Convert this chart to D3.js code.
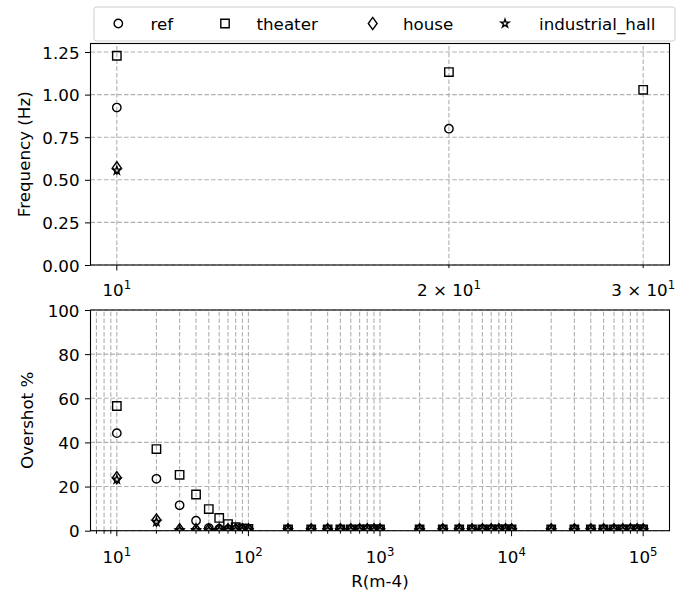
<!DOCTYPE html>
<html>
<head>
<meta charset="utf-8">
<script src="https://cdn.jsdelivr.net/npm/d3@7"></script>
<style>
  body { margin: 0; background: #fff; }
  text { font-family: "DejaVu Sans", sans-serif; fill: #000; }
</style>
</head>
<body>
<svg id="chart" width="688" height="592"></svg>
<script>
// ---- data ----
var seriesNames = ["ref", "theater", "house", "industrial_hall"];

// top panel: frequency vs R
var freqRefX = [10, 20];
var freqRefY = [0.924, 0.80];
var freqTheaterX = [10, 20, 30];
var freqTheaterY = [1.228, 1.132, 1.028];
var freqHouseX = [10];
var freqHouseY = [0.570];
var freqHallX = [10];
var freqHallY = [0.555];

// bottom panel: overshot vs R
var rValues = [10, 20, 30, 40, 50, 60, 70, 80, 90, 100,
  200, 300, 400, 500, 600, 700, 800, 900, 1000,
  2000, 3000, 4000, 5000, 6000, 7000, 8000, 9000, 10000,
  20000, 30000, 40000, 50000, 60000, 70000, 80000, 90000, 100000];
var overRef = [44.2, 23.5, 11.5, 4.5, 1.2, 0.8, 0.6, 0.5, 0.5, 0.5,
  0.5, 0.5, 0.5, 0.5, 0.5, 0.5, 0.5, 0.5, 0.5,
  0.5, 0.5, 0.5, 0.5, 0.5, 0.5, 0.5, 0.5, 0.5,
  0.5, 0.5, 0.5, 0.5, 0.5, 0.5, 0.5, 0.5, 0.5];
var overTheater = [56.5, 37.0, 25.3, 16.4, 9.8, 5.8, 3.0, 1.6, 1.0, 0.8,
  0.6, 0.6, 0.6, 0.6, 0.6, 0.6, 0.6, 0.6, 0.6,
  0.6, 0.6, 0.6, 0.6, 0.6, 0.6, 0.6, 0.6, 0.6,
  0.6, 0.6, 0.6, 0.6, 0.6, 0.6, 0.6, 0.6, 0.6];
var overHouse = [24.0, 4.8, 0.4, 0.4, 0.4, 0.4, 0.4, 0.4, 0.4, 0.4,
  0.4, 0.4, 0.4, 0.4, 0.4, 0.4, 0.4, 0.4, 0.4,
  0.4, 0.4, 0.4, 0.4, 0.4, 0.4, 0.4, 0.4, 0.4,
  0.4, 0.4, 0.4, 0.4, 0.4, 0.4, 0.4, 0.4, 0.4];
var overHall = [23.2, 4.0, 0.3, 0.3, 0.3, 0.3, 0.3, 0.3, 0.3, 0.3,
  0.3, 0.3, 0.3, 0.3, 0.3, 0.3, 0.3, 0.3, 0.3,
  0.3, 0.3, 0.3, 0.3, 0.3, 0.3, 0.3, 0.3, 0.3,
  0.3, 0.3, 0.3, 0.3, 0.3, 0.3, 0.3, 0.3, 0.3];

var freqTicks = [0, 0.25, 0.5, 0.75, 1.0, 1.25];
var overTicks = [0, 20, 40, 60, 80, 100];

// ---- layout ----
var left = 90.5, right = 669.5;
var fontSize = 16.7;
var tickLen = 5.5, tickLenMinor = 3;
var svg = d3.select("#chart");

function logPad(lo, hi) {
  var a = Math.log10(lo), b = Math.log10(hi), m = (b - a) * 0.05;
  return [Math.pow(10, a - m), Math.pow(10, b + m)];
}

// 1..9 x 10^k inside the scale's domain (matplotlib style major+minor)
function logTicks(scale) {
  var d = scale.domain(), out = [];
  for (var e = Math.floor(Math.log10(d[0])); e <= Math.ceil(Math.log10(d[1])); e++) {
    for (var k = 1; k <= 9; k++) {
      var v = k * Math.pow(10, e);
      if (v >= d[0] && v <= d[1]) out.push(v);
    }
  }
  return out;
}
function isMajor(d) { return Math.abs(Math.log10(d) - Math.round(Math.log10(d))) < 1e-9; }

// marker glyphs, centred on 0,0
function markerPath(shape) {
  var p = d3.path();
  if (shape == "circle") {
    p.arc(0, 0, 4.2, 0, 2 * Math.PI);
  } else if (shape == "square") {
    p.rect(-4.2, -4.2, 8.4, 8.4);
  } else if (shape == "diamond") {
    p.moveTo(0, -6.1); p.lineTo(4.4, 0); p.lineTo(0, 6.1); p.lineTo(-4.4, 0); p.closePath();
  } else {
    for (var i = 0; i < 10; i++) {
      var r = i % 2 ? 1.65 : 4.3, a = -Math.PI / 2 + i * Math.PI / 5;
      if (i == 0) p.moveTo(r * Math.cos(a), r * Math.sin(a));
      else p.lineTo(r * Math.cos(a), r * Math.sin(a));
    }
    p.closePath();
  }
  return p.toString();
}
var shapes = ["circle", "square", "diamond", "star"];

function sciLabel(sel, v) {
  var e = Math.floor(Math.log10(v) + 1e-9), m = Math.round(v / Math.pow(10, e));
  sel.text(m == 1 ? "10" : m + " \u00d7 10");
  sel.append("tspan").attr("font-size", fontSize * 0.7).attr("dy", -7).text(e);
}

function panel(cfg) {
  var g = svg.append("g");
  var x = cfg.x, y = cfg.y;
  var y0 = y.range()[0], y1 = y.range()[1];
  var xt = logTicks(x);

  var clipId = "clip" + cfg.id;
  svg.append("clipPath").attr("id", clipId)
    .append("rect").attr("x", left).attr("y", y1).attr("width", right - left).attr("height", y0 - y1);

  // grid
  var grid = g.append("g").attr("stroke", "#b0b0b0").attr("stroke-width", 1.1)
    .attr("stroke-dasharray", "4.5,2.2").attr("fill", "none");
  grid.append("g").selectAll("line").data(xt).join("line")
    .attr("x1", x).attr("x2", x).attr("y1", y0).attr("y2", y1);
  grid.append("g").selectAll("line").data(cfg.yTicks).join("line")
    .attr("x1", left).attr("x2", right).attr("y1", y).attr("y2", y);

  // markers
  var mk = g.append("g").attr("clip-path", "url(#" + clipId + ")");
  cfg.series.forEach(function(s, i) {
    var pts = d3.zip(s[0], s[1]);
    mk.append("g").selectAll("path").data(pts).join("path")
      .attr("d", markerPath(shapes[i]))
      .attr("transform", function(d) { return "translate(" + x(d[0]) + "," + y(d[1]) + ")"; })
      .attr("fill", "none").attr("stroke", "#000").attr("stroke-width", 1.4);
  });

  // frame
  g.append("rect").attr("x", left).attr("y", y1).attr("width", right - left).attr("height", y0 - y1)
    .attr("fill", "none").attr("stroke", "#000").attr("stroke-width", 1.1);

  // x ticks
  g.append("g").selectAll("line").data(xt).join("line")
    .attr("x1", x).attr("x2", x).attr("y1", y0)
    .attr("y2", function(d) { return y0 + (isMajor(d) ? tickLen : tickLenMinor); })
    .attr("stroke", "#000").attr("stroke-width", 1);
  g.append("g").selectAll("text").data(xt.filter(cfg.labelFilter)).join("text")
    .attr("x", x).attr("y", y0 + cfg.labelDy)
    .attr("text-anchor", "middle").attr("font-size", fontSize)
    .each(function(d) { sciLabel(d3.select(this), d); });

  // y axis
  var ya = g.append("g").attr("transform", "translate(" + left + ",0)")
    .call(d3.axisLeft(y).tickValues(cfg.yTicks).tickFormat(cfg.yFormat)
      .tickSize(tickLen).tickPadding(5.5));
  ya.select(".domain").remove();
  ya.attr("font-family", null).attr("font-size", null);
  ya.selectAll("text").attr("font-size", fontSize).attr("dy", "0.36em");
  ya.selectAll("line").attr("stroke-width", 1);

  g.append("text").attr("transform", "translate(" + cfg.yLabelX + "," + ((y0 + y1) / 2) + ") rotate(-90)")
    .attr("text-anchor", "middle").attr("font-size", fontSize).text(cfg.yLabel);
}

panel({
  id: "top",
  x: d3.scaleLog().domain(logPad(10, 30)).range([left, right]),
  y: d3.scaleLinear().domain([0, 1.3]).range([265, 43.5]),
  yTicks: freqTicks, yFormat: d3.format(".2f"),
  yLabel: "Frequency (Hz)", yLabelX: 29.5, labelDy: 30.5,
  labelFilter: function(d) { return true; },
  series: [[freqRefX, freqRefY], [freqTheaterX, freqTheaterY], [freqHouseX, freqHouseY], [freqHallX, freqHallY]]
});

panel({
  id: "bot",
  x: d3.scaleLog().domain(logPad(10, 100000)).range([left, right]),
  y: d3.scaleLinear().domain([0, 100]).range([530.7, 310]),
  yTicks: overTicks, yFormat: d3.format("d"),
  yLabel: "Overshot %", yLabelX: 33.3, labelDy: 32.5,
  labelFilter: isMajor,
  series: [[rValues, overRef], [rValues, overTheater], [rValues, overHouse], [rValues, overHall]]
});

svg.append("text").attr("x", (left + right) / 2).attr("y", 586.5)
  .attr("text-anchor", "middle").attr("font-size", fontSize).text("R(m-4)");

// legend
var leg = svg.append("g");
leg.append("rect").attr("x", 94).attr("y", 7).attr("width", 581).attr("height", 34).attr("rx", 2.5)
  .attr("fill", "#fff").attr("stroke", "#cccccc").attr("stroke-width", 1);
var legMarkX = [118.3, 225, 372.7, 505];
var legTextX = [150.5, 256.5, 403, 539];
seriesNames.forEach(function(name, i) {
  leg.append("path").attr("d", markerPath(shapes[i]))
    .attr("transform", "translate(" + legMarkX[i] + ",23.5)")
    .attr("fill", "none").attr("stroke", "#000").attr("stroke-width", 1.4);
  leg.append("text").attr("x", legTextX[i]).attr("y", 29.5).attr("font-size", fontSize).text(name);
});
</script>
</body>
</html>
